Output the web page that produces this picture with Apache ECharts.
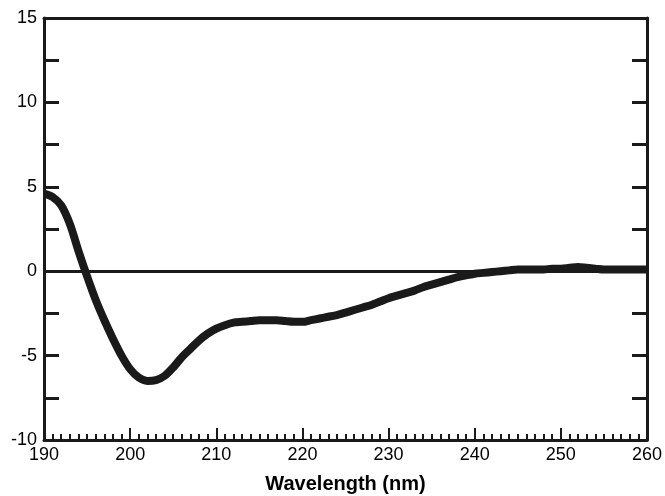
<!DOCTYPE html>
<html>
<head>
<meta charset="utf-8">
<script src="https://cdn.jsdelivr.net/npm/echarts@6/dist/echarts.min.js"></script>
<style>
  html, body { margin: 0; padding: 0; background: #fff; }
  #chart { width: 665px; height: 496px; }
</style>
</head>
<body>
<div id="chart"></div>
<script>
// wavelength (nm) and CD signal
const wavelength = [190, 191, 192, 193, 194, 195, 196, 197, 198, 199,
  200, 201, 202, 203, 204, 205, 206, 207, 208, 209,
  210, 211, 212, 213, 214, 215, 216, 217, 218, 219,
  220, 221, 222, 223, 224, 225, 226, 227, 228, 229,
  230, 231, 232, 233, 234, 235, 236, 237, 238, 239,
  240, 241, 242, 243, 244, 245, 246, 247, 248, 249,
  250, 251, 252, 253, 254, 255, 256, 257, 258, 259, 260];
const signal = [4.6, 4.4, 3.9, 2.8, 1.2, -0.3, -1.7, -2.9, -4.0, -5.0,
  -5.8, -6.3, -6.5, -6.45, -6.2, -5.7, -5.1, -4.6, -4.1, -3.7,
  -3.4, -3.2, -3.05, -3.0, -2.95, -2.9, -2.9, -2.9, -2.95, -3.0,
  -3.0, -2.9, -2.8, -2.7, -2.6, -2.45, -2.3, -2.15, -2.0, -1.8,
  -1.6, -1.45, -1.3, -1.15, -0.95, -0.8, -0.65, -0.5, -0.35, -0.25,
  -0.15, -0.1, -0.05, 0.0, 0.05, 0.1, 0.1, 0.1, 0.1, 0.15,
  0.15, 0.2, 0.25, 0.2, 0.15, 0.1, 0.1, 0.1, 0.1, 0.1, 0.1];

const xMin = 190, xMax = 260, xStep = 10;
const yMin = -10, yMax = 15, yStep = 2.5, yLabelStep = 5;

const ink = '#1a1a1a';
const font = 'Liberation Sans, Arial, sans-serif';

const chart = echarts.init(document.getElementById('chart'));

chart.setOption({
  animation: false,
  grid: { left: 44, right: 18, top: 18, bottom: 56, containLabel: false, outerBoundsMode: 'none' },
  xAxis: [{
    type: 'value',
    min: xMin, max: xMax, interval: xStep,
    name: 'Wavelength (nm)',
    nameLocation: 'middle',
    nameGap: 34,
    nameTextStyle: { fontFamily: font, fontSize: 20, fontWeight: 'bold', color: '#000' },
    axisLine: { onZero: false, lineStyle: { color: ink, width: 3 } },
    axisTick: { inside: true, length: 12, lineStyle: { color: ink, width: 2 } },
    minorTick: { show: true, splitNumber: 10, length: 6, lineStyle: { color: ink, width: 2 } },
    axisLabel: { fontFamily: font, fontSize: 18, color: '#000', margin: 6 },
    splitLine: { show: false }
  }, {
    type: 'value', position: 'top',
    min: xMin, max: xMax, interval: xStep,
    axisLine: { show: true, onZero: false, lineStyle: { color: ink, width: 3 } },
    axisTick: { show: false }, axisLabel: { show: false }, splitLine: { show: false }
  }],
  yAxis: [{
    type: 'value',
    min: yMin, max: yMax, interval: yStep,
    axisLine: { show: true, onZero: false, lineStyle: { color: ink, width: 3 } },
    axisTick: { show: true, inside: true, length: 15, lineStyle: { color: ink, width: 3 } },
    axisLabel: {
      fontFamily: font, fontSize: 18, color: '#000', margin: 7,
      formatter: v => (v % yLabelStep === 0 ? String(v) : '')
    },
    splitLine: { show: false }
  }, {
    type: 'value', position: 'right',
    min: yMin, max: yMax, interval: yStep,
    axisLine: { show: true, onZero: false, lineStyle: { color: ink, width: 3 } },
    axisTick: { show: true, inside: true, length: 15, lineStyle: { color: ink, width: 3 } },
    axisLabel: { show: false }, splitLine: { show: false }
  }],
  series: [{
    type: 'line',
    data: wavelength.map((w, i) => [w, signal[i]]),
    smooth: 0.3,
    showSymbol: false,
    lineStyle: { color: ink, width: 8 },
    markLine: {
      silent: true,
      symbol: 'none',
      label: { show: false },
      lineStyle: { color: ink, width: 3, type: 'solid' },
      data: [{ yAxis: 0 }]
    }
  }]
});
</script>
</body>
</html>
